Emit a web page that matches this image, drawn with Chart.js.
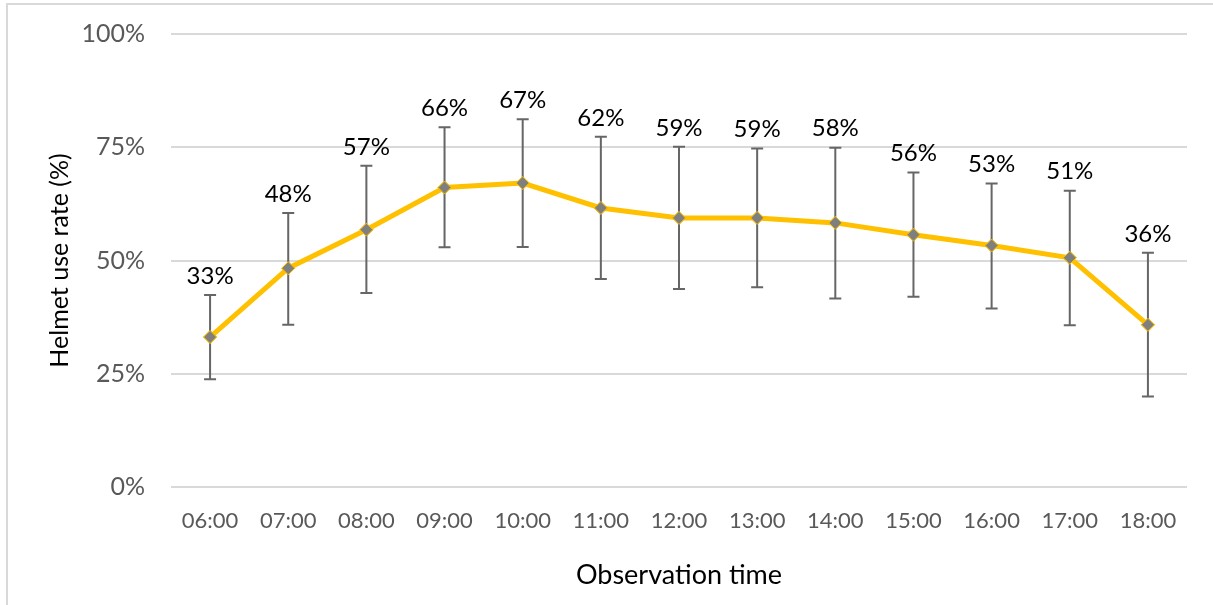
<!DOCTYPE html>
<html>
<head>
<meta charset="utf-8">
<script src="https://cdn.jsdelivr.net/npm/chart.js@4/dist/chart.umd.min.js"></script>
<style>
	html, body { margin: 0; padding: 0; background: #fff; }
	#wrap { position: relative; width: 1213px; height: 605px; }
</style>
</head>
<body>
<div id="wrap"><canvas id="helmetChart"></canvas></div>
<script>
// observation hours
const hours = ["06:00", "07:00", "08:00", "09:00", "10:00", "11:00", "12:00",
	"13:00", "14:00", "15:00", "16:00", "17:00", "18:00"];
// helmet use rate (%)
const useRate = [33.1, 48.3, 56.8, 66.1, 67.1, 61.6, 59.4, 59.4, 58.3, 55.7, 53.3, 50.6, 35.8];
// error bar ends (%)
const errLow = [23.8, 35.8, 42.8, 52.9, 53.0, 45.9, 43.7, 44.1, 41.6, 42.0, 39.4, 35.7, 20.0];
const errHigh = [42.4, 60.5, 70.9, 79.4, 81.2, 77.3, 75.1, 74.7, 74.9, 69.4, 67.0, 65.4, 51.7];
const yTicks = [0, 25, 50, 75, 100];

const FONT = "Lato, 'Open Sans', sans-serif";

// whiskers + value labels, drawn on the chart's own scales
const errorBarPlugin = {
	id: "errorBars",
	afterDatasetsDraw(chart) {
		const ctx = chart.ctx;
		const x = chart.scales.x;
		const y = chart.scales.y;
		ctx.save();
		ctx.strokeStyle = "#666666";
		ctx.lineWidth = 2;
		hours.forEach((h, i) => {
			const px = x.getPixelForValue(i);
			const top = y.getPixelForValue(errHigh[i]);
			const bot = y.getPixelForValue(errLow[i]);
			ctx.beginPath();
			ctx.moveTo(px, top);
			ctx.lineTo(px, bot);
			ctx.moveTo(px - 6, top);
			ctx.lineTo(px + 6, top);
			ctx.moveTo(px - 6, bot);
			ctx.lineTo(px + 6, bot);
			ctx.stroke();
		});
		// redraw the markers so they sit on top of the whiskers
		const meta = chart.getDatasetMeta(0);
		meta.data.forEach((pt) => pt.draw(ctx, chart.chartArea));

		ctx.fillStyle = "#000";
		ctx.font = "24px " + FONT;
		ctx.textAlign = "center";
		ctx.textBaseline = "middle";
		hours.forEach((h, i) => {
			const px = x.getPixelForValue(i);
			const top = y.getPixelForValue(errHigh[i]);
			ctx.fillText(Math.round(useRate[i]) + "%", px, top - 19);
		});
		ctx.restore();
	},
};

// light frame at the top-left of the picture
const framePlugin = {
	id: "frame",
	afterDraw(chart) {
		const ctx = chart.ctx;
		ctx.save();
		ctx.strokeStyle = "#d9d9d9";
		ctx.lineWidth = 2;
		ctx.beginPath();
		ctx.moveTo(7, 605);
		ctx.lineTo(7, 4);
		ctx.lineTo(1213, 4);
		ctx.stroke();
		ctx.restore();
	},
};

new Chart(document.getElementById("helmetChart"), {
	type: "line",
	data: {
		labels: hours,
		datasets: [{
			data: useRate,
			borderColor: "#FFC000",
			borderWidth: 5,
			tension: 0,
			pointStyle: "rectRot",
			pointRadius: 6.5,
			pointBackgroundColor: "#7F7F7F",
			pointBorderColor: "#FFC000",
			pointBorderWidth: 1,
		}],
	},
	options: {
		responsive: true,
		maintainAspectRatio: false,
		animation: false,
		layout: { padding: { top: 34, right: 26, left: 0, bottom: 0 } },
		plugins: {
			legend: { display: false },
			tooltip: { enabled: false },
		},
		scales: {
			x: {
				offset: true,
				grid: { display: false },
				border: { display: false },
				ticks: { color: "#595959", font: { family: FONT, size: 22 }, padding: 13, maxRotation: 0 },
				title: {
					display: true,
					text: "Observation time",
					color: "#000",
					font: { family: FONT, size: 27 },
					padding: { top: 0, bottom: 14 },
				},
				afterFit(scale) { scale.height = 118; },
			},
			y: {
				min: 0,
				max: 100,
				afterBuildTicks(scale) { scale.ticks = yTicks.map((v) => ({ value: v })); },
				grid: { color: "#d9d9d9", lineWidth: 2, drawTicks: false },
				border: { display: false },
				ticks: {
					color: "#595959",
					font: { family: FONT, size: 25 },
					padding: 26,
					callback: (v) => v + "%",
				},
				title: {
					display: true,
					text: "Helmet use rate (%)",
					color: "#000",
					font: { family: FONT, size: 25 },
					padding: { top: 45, bottom: 0 },
				},
				afterFit(scale) {
					scale.width = 171;
					scale.paddingTop = 0;
					scale.paddingBottom = 0;
				},
			},
		},
	},
	plugins: [errorBarPlugin, framePlugin],
});
</script>
</body>
</html>
